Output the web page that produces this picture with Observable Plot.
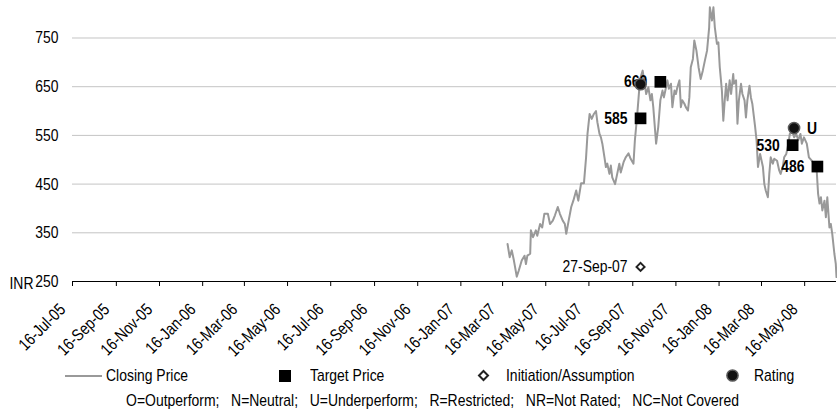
<!DOCTYPE html>
<html>
<head>
<meta charset="utf-8">
<script src="https://cdn.jsdelivr.net/npm/d3@7"></script>
<script src="https://cdn.jsdelivr.net/npm/@observablehq/plot@0.6"></script>
<style>
  body { margin: 0; background: #fff; color: #000;
         font-family: "Liberation Sans", Arial, sans-serif; }
  #chart { width: 837px; height: 419px; position: relative; overflow: hidden; }
  #chart svg { display: block; overflow: visible; }
  .legend { position: relative; height: 31px; font-size: 17px; }
  .item { position: absolute; top: 0; height: 31px; display: flex; align-items: center; white-space: nowrap; }
  .item svg { display: block; flex: none; }
  .item span { display: inline-block; transform: scaleX(0.82); transform-origin: left center; }
  .note { position: absolute; left: 0; width: 865px; top: 391px; height: 20px; line-height: 20px;
          text-align: center; font-size: 17px; white-space: pre;
          transform: scaleX(0.82); transform-origin: center center; }
</style>
</head>
<body>
<div id="chart"></div>
<script>
// Daily closing price (INR), read as turning points of the series
const priceDates = [
  "2007-03-23","2007-03-26","2007-03-29","2007-04-01","2007-04-05","2007-04-08","2007-04-12","2007-04-16",
  "2007-04-18","2007-04-20","2007-04-24","2007-04-25","2007-04-28","2007-05-02","2007-05-04","2007-05-08",
  "2007-05-11","2007-05-14","2007-05-19","2007-05-22","2007-05-26","2007-05-29","2007-06-02","2007-06-05",
  "2007-06-09","2007-06-12","2007-06-14","2007-06-17","2007-06-21","2007-06-24","2007-06-28","2007-07-01",
  "2007-07-05","2007-07-09","2007-07-12","2007-07-14","2007-07-17","2007-07-20","2007-07-23","2007-07-26",
  "2007-07-28","2007-07-31","2007-08-02","2007-08-04","2007-08-07","2007-08-09","2007-08-11","2007-08-14",
  "2007-08-16","2007-08-18","2007-08-22","2007-08-25","2007-08-28","2007-08-30","2007-09-03","2007-09-06",
  "2007-09-10","2007-09-13","2007-09-17","2007-09-19","2007-09-22","2007-09-25","2007-09-27","2007-09-30",
  "2007-10-02","2007-10-05","2007-10-08","2007-10-11","2007-10-13","2007-10-15","2007-10-19","2007-10-22",
  "2007-10-25","2007-10-28","2007-10-30","2007-11-02","2007-11-04","2007-11-06","2007-11-09","2007-11-11",
  "2007-11-14","2007-11-16","2007-11-18","2007-11-21","2007-11-23","2007-11-25","2007-11-28","2007-11-30",
  "2007-12-03","2007-12-05","2007-12-07","2007-12-10","2007-12-12","2007-12-15","2007-12-18","2007-12-21",
  "2007-12-24","2007-12-27","2007-12-30","2008-01-02","2008-01-03","2008-01-06","2008-01-08","2008-01-10",
  "2008-01-13","2008-01-15","2008-01-17","2008-01-20","2008-01-22","2008-01-24","2008-01-26","2008-01-28",
  "2008-01-31","2008-02-02","2008-02-05","2008-02-06","2008-02-09","2008-02-11","2008-02-13","2008-02-16",
  "2008-02-18","2008-02-21","2008-02-23","2008-02-25","2008-02-28","2008-03-01","2008-03-03","2008-03-07",
  "2008-03-09","2008-03-11","2008-03-14","2008-03-18","2008-03-20","2008-03-22","2008-03-25","2008-03-27",
  "2008-03-29","2008-04-01","2008-04-03","2008-04-07","2008-04-10","2008-04-12","2008-04-15","2008-04-17",
  "2008-04-20","2008-04-23","2008-04-25","2008-04-29","2008-05-01","2008-05-04","2008-05-07","2008-05-10",
  "2008-05-12","2008-05-15","2008-05-19","2008-05-22","2008-05-26","2008-05-29","2008-06-02","2008-06-04",
  "2008-06-06","2008-06-08","2008-06-10","2008-06-13","2008-06-15","2008-06-17","2008-06-20","2008-06-22",
  "2008-06-24","2008-06-27","2008-06-29","2008-06-30"
];
const priceValues = [
  327,300,314,293,260,273,293,303,
  286,303,307,355,341,355,344,368,
  361,389,389,368,375,386,403,389,
  375,368,348,372,403,416,437,416,
  452,452,505,553,594,584,594,600,
  577,553,546,533,505,485,492,471,
  488,464,450,471,492,474,495,505,
  513,502,492,540,587,642,669,683,
  663,635,649,622,635,608,533,567,
  622,642,628,649,663,646,656,608,
  642,635,649,663,608,622,615,608,
  601,628,690,707,745,724,690,666,
  683,704,724,772,813,786,813,772,
  738,741,690,642,580,622,656,622,
  663,635,676,656,663,574,622,656,
  635,622,587,622,652,628,615,567,
  540,485,512,485,450,437,423,471,
  505,492,502,498,478,471,485,505,
  512,533,553,557,546,553,540,553,
  533,546,533,505,498,492,478,430,
  410,423,396,416,382,423,361,368,
  348,307,286,259
];

// Target price changes
const targetDates  = ["2007-09-27", "2007-10-25", "2008-04-29", "2008-06-03"];
const targetValues = [585, 660, 530, 486];

// Rating changes
const ratingDates  = ["2007-09-27", "2008-05-01"];
const ratingValues = [655, 565];
const ratingLabels = ["", "U"];

// Initiation / assumption of coverage
const initiationDates  = ["2007-09-27"];
const initiationValues = [280];
const initiationLabels = ["27-Sep-07"];

// Axes
const yTicks = [250, 350, 450, 550, 650, 750];
const xTickDates = [
  "2005-07-16","2005-09-16","2005-11-16","2006-01-16","2006-03-16","2006-05-16",
  "2006-07-16","2006-09-16","2006-11-16","2007-01-16","2007-03-16","2007-05-16",
  "2007-07-16","2007-09-16","2007-11-16","2008-01-16","2008-03-16","2008-05-16"
];
const xDomain = ["2005-07-16", "2008-06-30"];
const yDomain = [250, 827];
const unitLabel = "INR";
const footnote = "O=Outperform;   N=Neutral;   U=Underperform;   R=Restricted;   NR=Not Rated;   NC=Not Covered";

const parse = d3.utcParse("%Y-%m-%d");
const fmtTick = d3.utcFormat("%d-%b-%y");

const price = priceDates.map((d, i) => ({date: parse(d), close: priceValues[i]}));
const targets = targetDates.map((d, i) => ({date: parse(d), value: targetValues[i]}));
const ratings = ratingDates.map((d, i) => ({date: parse(d), value: ratingValues[i], label: ratingLabels[i]}));
const initiations = initiationDates.map((d, i) => ({date: parse(d), value: initiationValues[i], label: initiationLabels[i]}));
const ticks = xTickDates.map(parse);

const font = '"Liberation Sans", Arial, sans-serif';
const fs = 17;

const plot = Plot.plot({
  width: 837,
  height: 360,
  marginLeft: 72,
  marginRight: 1,
  marginTop: 0,
  marginBottom: 79,
  style: {fontFamily: font, fontSize: fs + "px", color: "#000", background: "#fff", overflow: "visible"},
  x: {type: "utc", domain: xDomain.map(parse), axis: null},
  y: {domain: yDomain, axis: null},
  marks: [
    Plot.gridY(yTicks.filter(v => v > yDomain[0]), {stroke: "#c4c4c4", strokeOpacity: 1, strokeWidth: 1}),
    Plot.axisY(yTicks, {tickSize: 0, tickPadding: 14, fontSize: fs, fill: "#000"}),
    Plot.text([yDomain[0]], {y: d => d, frameAnchor: "left", text: () => unitLabel, textAnchor: "start", dx: -63, dy: 2, fontSize: fs, fill: "#000"}),
    Plot.ruleY([yDomain[0]], {stroke: "#000", strokeWidth: 1}),
    Plot.axisX(ticks, {tickSize: 5, tickFormat: () => "", stroke: "#000"}),
    Plot.text(ticks, {x: d => d, frameAnchor: "bottom", text: d => fmtTick(d), rotate: -45, textAnchor: "end", dx: -6, dy: 29, fontSize: fs, fill: "#000"}),
    Plot.line(price, {x: "date", y: "close", stroke: "#999", strokeWidth: 2}),
    Plot.dot(targets, {x: "date", y: "value", symbol: "square", r: 6.6, fill: "#000"}),
    Plot.text(targets, {x: "date", y: "value", text: d => String(d.value), textAnchor: "end", dx: -13, fontWeight: "bold", fontSize: fs, fill: "#000"}),
    Plot.dot(initiations, {x: "date", y: "value", symbol: "diamond2", r: 3.6, fill: "#fff", stroke: "#222", strokeWidth: 2}),
    Plot.text(initiations, {x: "date", y: "value", text: "label", textAnchor: "end", dx: -13, fontSize: fs, fill: "#000"}),
    Plot.dot(ratings, {x: "date", y: "value", r: 5.6, fill: "#111", stroke: "#5a5a5a", strokeWidth: 1.5}),
    Plot.text(ratings, {x: "date", y: "value", text: "label", textAnchor: "start", dx: 13, fontWeight: "bold", fontSize: fs, fill: "#000"})
  ]
});

// Condensed lettering: narrow every label around its own anchor
plot.querySelectorAll("text").forEach(t => {
  const tr = t.getAttribute("transform") || "";
  t.setAttribute("transform", (tr + " scale(0.82,1)").trim());
});

const root = document.getElementById("chart");
root.appendChild(plot);

// Legend row below the plot
const legend = document.createElement("div");
legend.className = "legend";
legend.innerHTML = `
  <div class="item" style="left:64px">
    <svg width="40" height="10"><line x1="1" y1="5" x2="38" y2="5" stroke="#999" stroke-width="2"/></svg>
    <span style="margin-left:2px">Closing Price</span></div>
  <div class="item" style="left:279px">
    <svg width="12" height="12"><rect x="0" y="0" width="12" height="12" fill="#000"/></svg>
    <span style="margin-left:19px">Target Price</span></div>
  <div class="item" style="left:478px">
    <svg width="11" height="11"><path d="M5.5,1 L10,5.5 L5.5,10 L1,5.5 Z" fill="#fff" stroke="#222" stroke-width="2"/></svg>
    <span style="margin-left:17px">Initiation/Assumption</span></div>
  <div class="item" style="left:726px">
    <svg width="13" height="13"><circle cx="6.5" cy="6.5" r="5.6" fill="#111" stroke="#5a5a5a" stroke-width="1.5"/></svg>
    <span style="margin-left:15px">Rating</span></div>`;
root.appendChild(legend);

const note = document.createElement("div");
note.className = "note";
note.textContent = footnote;
root.appendChild(note);
</script>
</body>
</html>
